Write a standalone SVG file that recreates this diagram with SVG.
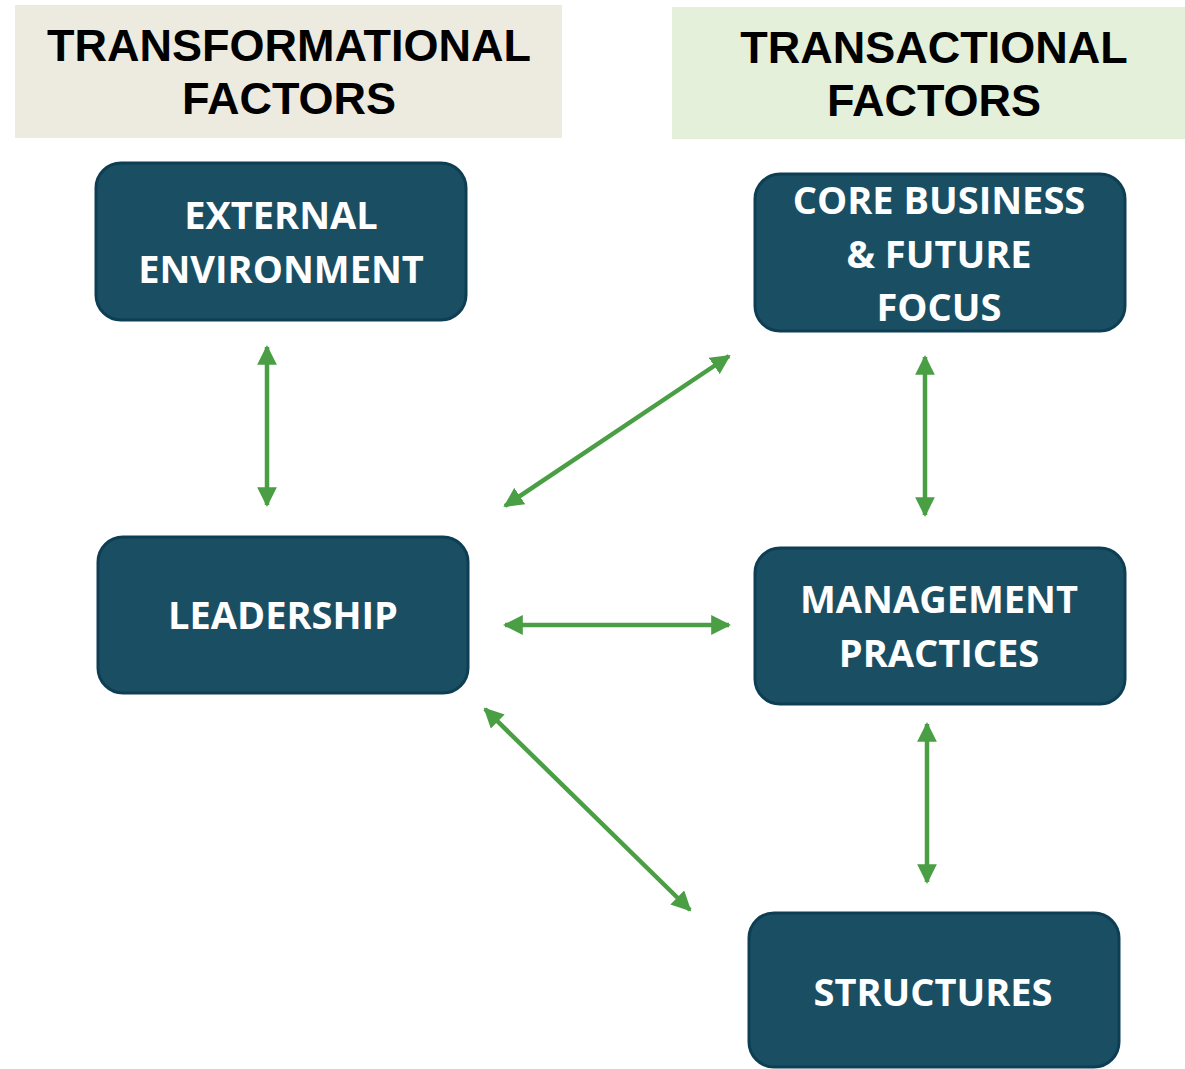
<svg xmlns="http://www.w3.org/2000/svg" width="1185" height="1069" viewBox="0 0 1185 1069">
<defs>
<style>
.hdr{font-family:"Liberation Sans",Arial,sans-serif;font-weight:bold;font-size:45px;fill:#000;text-anchor:middle}
.box{fill:#1A4F63;stroke:#0E3E54;stroke-width:3}
.lbl{font-family:"Open Sans","Liberation Sans",sans-serif;font-weight:bold;font-size:38px;fill:#fff;text-anchor:middle}
.con{stroke:#4A9E44;stroke-width:4.5;fill:none;marker-start:url(#ah);marker-end:url(#ah)}
</style>
<marker id="ah" viewBox="0 0 10 10" refX="9" refY="5" markerWidth="4.4" markerHeight="4.4" orient="auto-start-reverse" markerUnits="strokeWidth">
<path d="M0,0 L10,5 L0,10 z" fill="#4A9E44"/>
</marker>
</defs>
<rect width="1185" height="1069" fill="#fff"/>
<g id="hdr-transformational">
<rect x="15" y="5" width="547" height="133" fill="#EDEBE0"/>
<text class="hdr" x="289" y="61">TRANSFORMATIONAL</text>
<text class="hdr" x="289" y="114">FACTORS</text>
</g>
<g id="hdr-transactional">
<rect x="672" y="7" width="513" height="132" fill="#E4F0DA"/>
<text class="hdr" x="934" y="63">TRANSACTIONAL</text>
<text class="hdr" x="934" y="116">FACTORS</text>
</g>
<g id="external">
<rect class="box" x="96" y="163" width="370" height="157" rx="25"/>
<text class="lbl" x="281" y="229">EXTERNAL</text>
<text class="lbl" x="281" y="283">ENVIRONMENT</text>
</g>
<g id="core">
<rect class="box" x="755" y="174" width="370" height="157" rx="25"/>
<text class="lbl" x="939" y="214">CORE BUSINESS</text>
<text class="lbl" x="939" y="268">&amp; FUTURE</text>
<text class="lbl" x="939" y="321">FOCUS</text>
</g>
<g id="leadership">
<rect class="box" x="98" y="537" width="370" height="156" rx="25"/>
<text class="lbl" x="283" y="629">LEADERSHIP</text>
</g>
<g id="management">
<rect class="box" x="755" y="548" width="370" height="156" rx="25"/>
<text class="lbl" x="939" y="613">MANAGEMENT</text>
<text class="lbl" x="939" y="667">PRACTICES</text>
</g>
<g id="structures">
<rect class="box" x="749" y="913" width="370" height="154" rx="25"/>
<text class="lbl" x="933" y="1006">STRUCTURES</text>
</g>
<g id="connectors">
<line class="con" x1="267" y1="347" x2="267" y2="505"/>
<line class="con" x1="505" y1="506" x2="729" y2="356"/>
<line class="con" x1="505" y1="625" x2="729" y2="625"/>
<line class="con" x1="485" y1="709" x2="690" y2="910"/>
<line class="con" x1="925" y1="357" x2="925" y2="515"/>
<line class="con" x1="927" y1="724" x2="927" y2="882"/>
</g>
</svg>
